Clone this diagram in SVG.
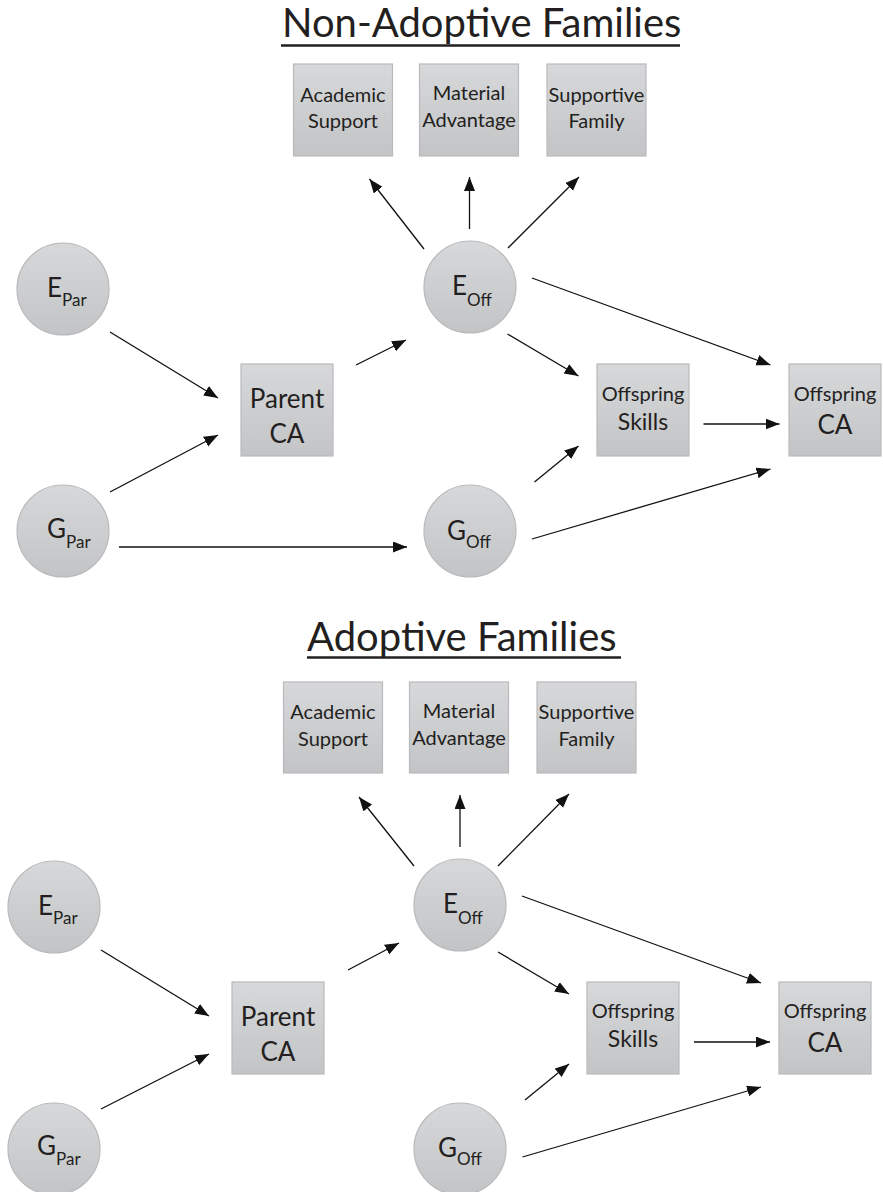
<svg xmlns="http://www.w3.org/2000/svg" width="883" height="1192" viewBox="0 0 883 1192">
<defs>
<linearGradient id="gf" x1="0" y1="0" x2="0" y2="1">
<stop offset="0" stop-color="#d7d8da"/>
<stop offset="1" stop-color="#c3c4c6"/>
</linearGradient>
<marker id="ah" markerUnits="userSpaceOnUse" markerWidth="15" markerHeight="12" refX="14" refY="5.5" orient="auto">
<path d="M0,0 L14,5.5 L0,11 Z" fill="#111"/>
</marker>
<style>
.nd{fill:url(#gf);stroke:#b9babc;stroke-width:1.2}
.t{font-family:Lato,"Open Sans","Liberation Sans",sans-serif;fill:#231f20}
.title{font-size:40px}
.bx{font-size:20px;text-anchor:middle}
.big{font-size:26px;text-anchor:middle}
.sk{font-size:23px;text-anchor:middle}
.cv{font-size:26px}
.sub{font-size:17px}
.ul{stroke:#231f20;stroke-width:2.5}
.c{stroke:#111;stroke-width:1.3;fill:none;marker-end:url(#ah)}
</style>
</defs>
<rect width="883" height="1192" fill="#fff"/>

<g id="title-nonadoptive">
<text class="t title" x="282" y="37">Non-Adoptive Families</text>
<line class="ul" x1="281" y1="45.5" x2="680" y2="45.5"/>
</g>
<g id="n1-academic"><rect class="nd" x="293.5" y="64" width="99" height="92"/><text class="t bx" x="343" y="102">Academic</text><text class="t bx" x="343" y="128">Support</text></g>
<g id="n1-material"><rect class="nd" x="419.5" y="64" width="99" height="92"/><text class="t bx" x="469" y="100">Material</text><text class="t bx" x="469" y="127">Advantage</text></g>
<g id="n1-supportive"><rect class="nd" x="547" y="64" width="99" height="92"/><text class="t bx" x="596.5" y="102">Supportive</text><text class="t bx" x="596.5" y="128">Family</text></g>
<g id="n1-epar"><circle class="nd" cx="63" cy="289" r="46"/><text class="t cv" x="47" y="297">E<tspan class="sub" dy="9">Par</tspan></text></g>
<g id="n1-eoff"><circle class="nd" cx="470" cy="287" r="46"/><text class="t cv" x="452" y="295">E<tspan class="sub" dy="11">Off</tspan></text></g>
<g id="n1-gpar"><circle class="nd" cx="63" cy="531" r="46"/><text class="t cv" x="47" y="538">G<tspan class="sub" dy="10">Par</tspan></text></g>
<g id="n1-goff"><circle class="nd" cx="470" cy="531" r="46"/><text class="t cv" x="447" y="540">G<tspan class="sub" dy="8">Off</tspan></text></g>
<g id="n1-parentca"><rect class="nd" x="241" y="364" width="92" height="92"/><text class="t big" x="287" y="408">Parent</text><text class="t big" x="287" y="443">CA</text></g>
<g id="n1-skills"><rect class="nd" x="597" y="364" width="92" height="92"/><text class="t bx" x="643" y="401">Offspring</text><text class="t sk" x="643" y="430">Skills</text></g>
<g id="n1-offca"><rect class="nd" x="789" y="364" width="92" height="92"/><text class="t bx" x="835" y="401">Offspring</text><text class="t big" x="835" y="434">CA</text></g>

<g id="title-adoptive">
<text class="t title" x="307" y="651">Adoptive Families</text>
<line class="ul" x1="307" y1="657.5" x2="621" y2="657.5"/>
</g>
<g id="n2-academic"><rect class="nd" x="283.5" y="682" width="99" height="91"/><text class="t bx" x="333" y="719">Academic</text><text class="t bx" x="333" y="746">Support</text></g>
<g id="n2-material"><rect class="nd" x="409.5" y="682" width="99" height="91"/><text class="t bx" x="459" y="718">Material</text><text class="t bx" x="459" y="745">Advantage</text></g>
<g id="n2-supportive"><rect class="nd" x="537" y="682" width="99" height="91"/><text class="t bx" x="586.5" y="719">Supportive</text><text class="t bx" x="586.5" y="746">Family</text></g>
<g id="n2-epar"><circle class="nd" cx="54" cy="907" r="46"/><text class="t cv" x="38" y="915">E<tspan class="sub" dy="9">Par</tspan></text></g>
<g id="n2-eoff"><circle class="nd" cx="460" cy="905" r="46"/><text class="t cv" x="443" y="913">E<tspan class="sub" dy="11">Off</tspan></text></g>
<g id="n2-gpar"><circle class="nd" cx="54" cy="1149" r="46"/><text class="t cv" x="37" y="1155">G<tspan class="sub" dy="10">Par</tspan></text></g>
<g id="n2-goff"><circle class="nd" cx="460" cy="1149" r="46"/><text class="t cv" x="438" y="1157">G<tspan class="sub" dy="8">Off</tspan></text></g>
<g id="n2-parentca"><rect class="nd" x="232" y="982" width="92" height="92"/><text class="t big" x="278" y="1026">Parent</text><text class="t big" x="278" y="1061">CA</text></g>
<g id="n2-skills"><rect class="nd" x="587" y="982" width="92" height="92"/><text class="t bx" x="633" y="1018">Offspring</text><text class="t sk" x="633" y="1047">Skills</text></g>
<g id="n2-offca"><rect class="nd" x="779" y="982" width="92" height="92"/><text class="t bx" x="825" y="1018">Offspring</text><text class="t big" x="825" y="1052">CA</text></g>

<g id="connectors">
<line class="c" x1="424" y1="249" x2="369.5" y2="179"/>
<line class="c" x1="469.5" y1="229" x2="469.5" y2="177"/>
<line class="c" x1="508" y1="248" x2="579" y2="177"/>
<line class="c" x1="110" y1="332" x2="218" y2="398"/>
<line class="c" x1="110" y1="492" x2="218" y2="435"/>
<line class="c" x1="356" y1="365" x2="406" y2="340"/>
<line class="c" x1="507.5" y1="334" x2="578.5" y2="376"/>
<line class="c" x1="532" y1="278" x2="770.5" y2="365"/>
<line class="c" x1="703.5" y1="424" x2="779.5" y2="424"/>
<line class="c" x1="534.5" y1="482" x2="578.5" y2="446"/>
<line class="c" x1="532" y1="539" x2="770.5" y2="469"/>
<line class="c" x1="119" y1="547" x2="407" y2="547"/>

<line class="c" x1="414" y1="866" x2="359" y2="797"/>
<line class="c" x1="460" y1="847" x2="460" y2="795"/>
<line class="c" x1="498" y1="866" x2="569" y2="794"/>
<line class="c" x1="101" y1="950" x2="209" y2="1016"/>
<line class="c" x1="101" y1="1109" x2="209" y2="1054"/>
<line class="c" x1="348" y1="970" x2="399" y2="943"/>
<line class="c" x1="498" y1="952" x2="569" y2="994"/>
<line class="c" x1="522" y1="896" x2="761" y2="983"/>
<line class="c" x1="694" y1="1042" x2="770" y2="1042"/>
<line class="c" x1="525" y1="1100" x2="569" y2="1064"/>
<line class="c" x1="522.5" y1="1157" x2="761" y2="1087"/>
</g>
</svg>
